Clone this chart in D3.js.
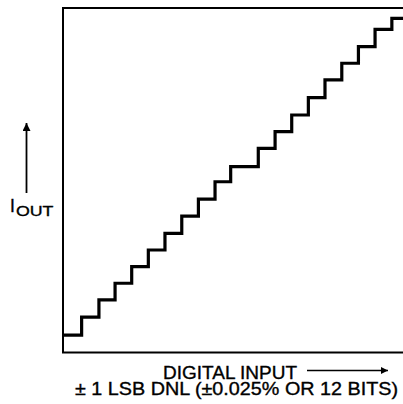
<!DOCTYPE html>
<html>
<head>
<meta charset="utf-8">
<script src="https://cdn.jsdelivr.net/npm/d3@7"></script>
<style>
  html, body { margin: 0; padding: 0; background: #fff; }
  svg { display: block; }
  text { font-family: "Liberation Sans", Arial, Helvetica, sans-serif; fill: #000; stroke: #000; stroke-width: 0.35px; }
</style>
</head>
<body>
<script>
// Digital input code at which each output step begins (LSB units)
const stepStarts = [0, 1.12, 2.16, 3.13, 4.13, 5.13, 6.13, 7.14, 8.14, 9.14, 10.08,
                    11.74, 12.75, 13.75, 14.75, 15.75, 16.76, 17.76, 18.76, 19.77];
// Output current level for each step (LSB units)
const outLevels = [1.05, 2.12, 3.16, 4.16, 5.16, 6.16, 7.16, 8.20, 9.22, 10.26,
                   11.17, 12.27, 13.27, 14.27, 15.31, 16.38, 17.38, 18.38, 19.42, 20.08];
const xMax = 20.5;
const yMax = 20.7;
const yLabelMain = "I";
const yLabelSub = "OUT";
const xLabel = "DIGITAL INPUT";
const noteLabel = "\u00B1 1 LSB DNL (\u00B10.025% OR 12 BITS)";

const W = 403, H = 404;
const svg = d3.select("body").append("svg").attr("width", W).attr("height", H);

const x = d3.scaleLinear().domain([0, xMax]).range([63, 404]);
const y = d3.scaleLinear().domain([0, yMax]).range([352.5, 8]);

// defs: arrowheads
const defs = svg.append("defs");
defs.append("marker").attr("id", "ah").attr("viewBox", "0 0 10 10")
  .attr("refX", 10).attr("refY", 5).attr("markerUnits", "userSpaceOnUse")
  .attr("markerWidth", 19).attr("markerHeight", 7).attr("orient", "auto")
  .append("path").attr("d", "M0,0 L10,5 L0,10 Z").attr("fill", "#000");
defs.append("marker").attr("id", "ahv").attr("viewBox", "0 0 10 10")
  .attr("refX", 10).attr("refY", 5).attr("markerUnits", "userSpaceOnUse")
  .attr("markerWidth", 19).attr("markerHeight", 8).attr("orient", "auto")
  .append("path").attr("d", "M0,0 L10,5 L0,10 Z").attr("fill", "#000");

// frame
svg.append("rect")
  .attr("x", x(0)).attr("y", y(yMax))
  .attr("width", x(xMax) - x(0)).attr("height", y(0) - y(yMax))
  .attr("fill", "none").attr("stroke", "#000").attr("stroke-width", 2);

// staircase
const pts = stepStarts.map((s, i) => [s, outLevels[i]]);
pts.push([xMax, outLevels[outLevels.length - 1]]);
const line = d3.line().x(d => x(d[0])).y(d => y(d[1])).curve(d3.curveStepAfter);
svg.append("path").datum(pts)
  .attr("d", line)
  .attr("fill", "none").attr("stroke", "#000")
  .attr("stroke-width", 3.2).attr("stroke-linejoin", "miter").attr("stroke-linecap", "butt");

// Y label arrow
svg.append("line")
  .attr("x1", 26.5).attr("y1", 193).attr("x2", 26.5).attr("y2", 123)
  .attr("stroke", "#000").attr("stroke-width", 1.8)
  .attr("marker-end", "url(#ahv)");

// Y label
const yl = svg.append("text").attr("x", 10).attr("y", 211.5);
yl.append("tspan").attr("font-size", 17.5).text(yLabelMain);
yl.append("tspan").attr("font-size", 15.5).attr("dx", 1).attr("dy", 4)
  .attr("textLength", 37.5).attr("lengthAdjust", "spacingAndGlyphs").text(yLabelSub);

// X label
svg.append("text").attr("x", 163).attr("y", 379)
  .attr("font-size", 18.5).attr("textLength", 134).attr("lengthAdjust", "spacingAndGlyphs").text(xLabel);
svg.append("line")
  .attr("x1", 307).attr("y1", 370.5).attr("x2", 388).attr("y2", 370.5)
  .attr("stroke", "#000").attr("stroke-width", 1.4)
  .attr("marker-end", "url(#ah)");

svg.append("text").attr("x", 75).attr("y", 395)
  .attr("font-size", 18).attr("textLength", 323).attr("lengthAdjust", "spacingAndGlyphs").text(noteLabel);
</script>
</body>
</html>
